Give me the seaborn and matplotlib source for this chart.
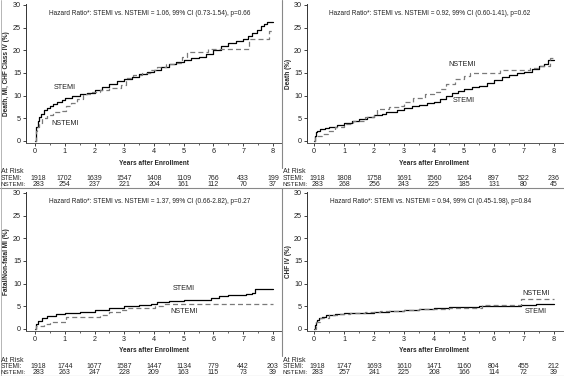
import seaborn as sns
import matplotlib.pyplot as plt
import pandas as pd
from matplotlib.lines import Line2D
from matplotlib.transforms import blended_transform_factory
from matplotlib.ticker import MultipleLocator

# panel 1: Death, MI, CHF Class IV
p1_stemi_t = [0, 0.02, 0.05, 0.1, 0.15, 0.2, 0.3, 0.4, 0.5, 0.6, 0.75, 0.9, 1.0, 1.25, 1.5, 1.75, 2.0, 2.25, 2.5,
              2.75, 3.0, 3.25, 3.5, 3.75, 4.0, 4.25, 4.5, 4.75, 5.0, 5.25, 5.5, 5.75, 6.0, 6.25, 6.5, 6.75, 7.0,
              7.15, 7.3, 7.45, 7.6, 7.7, 7.8, 8.0]
p1_stemi_v = [0, 1.5, 3.0, 4.3, 5.3, 6.0, 6.8, 7.3, 7.7, 8.1, 8.6, 9.1, 9.4, 9.9, 10.3, 10.6, 11.2, 11.8, 12.6,
              13.2, 13.7, 14.2, 14.8, 15.1, 15.6, 16.3, 17.0, 17.5, 17.9, 18.2, 18.6, 19.2, 20.1, 20.9, 21.6, 22.0,
              22.5, 23.1, 23.8, 24.5, 25.3, 25.8, 26.3, 26.3]
p1_nstemi_t = [0, 0.03, 0.08, 0.15, 0.25, 0.4, 0.6, 0.9, 1.05, 1.2, 1.4, 1.6, 1.9, 2.2, 2.5, 2.9, 3.05, 3.3, 3.6,
               3.9, 4.1, 4.4, 4.7, 4.95, 5.1, 5.5, 5.8, 6.9, 7.2, 7.85, 8.0]
p1_nstemi_v = [0, 2.2, 3.0, 4.0, 5.0, 5.8, 6.3, 6.6, 7.6, 8.4, 9.3, 10.3, 10.8, 11.3, 11.6, 12.4, 13.8, 14.5,
               15.0, 15.6, 16.4, 16.9, 17.3, 18.6, 19.6, 19.7, 20.2, 20.2, 22.5, 24.3, 24.3]

# panel 2: Death
p2_stemi_t = [0, 0.02, 0.05, 0.1, 0.2, 0.35, 0.5, 0.75, 1.0, 1.25, 1.5, 1.75, 2.0, 2.25, 2.4, 2.75, 3.0, 3.25,
              3.5, 3.75, 4.0, 4.2, 4.4, 4.6, 4.8, 5.0, 5.25, 5.5, 5.75, 6.0, 6.25, 6.5, 6.75, 7.0, 7.25, 7.5,
              7.65, 7.8, 8.0]
p2_stemi_v = [0, 1.2, 1.9, 2.3, 2.6, 2.8, 3.1, 3.5, 4.0, 4.5, 4.9, 5.3, 5.7, 5.9, 6.3, 6.8, 7.2, 7.6, 8.0,
              8.3, 8.7, 9.3, 10.0, 10.5, 11.0, 11.5, 11.8, 12.1, 12.7, 13.4, 14.0, 14.5, 15.0, 15.3, 15.9, 16.6,
              17.0, 17.8, 17.8]
p2_nstemi_t = [0, 0.03, 0.1, 0.25, 0.45, 0.7, 1.0, 1.3, 1.7, 2.0, 2.1, 2.5, 2.9, 3.0, 3.3, 3.7, 4.0, 4.2, 4.4,
               4.7, 5.0, 5.2, 6.0, 6.2, 6.9, 7.2, 7.5, 7.85, 8.0]
p2_nstemi_v = [0, 0.8, 1.2, 1.6, 2.2, 3.0, 3.7, 4.4, 5.2, 5.8, 7.0, 7.5, 7.8, 8.6, 9.4, 10.4, 10.9, 11.4,
               12.6, 13.6, 14.4, 15.0, 15.0, 15.6, 15.6, 16.0, 16.6, 18.3, 18.3]

# panel 3: Fatal/Non-fatal MI
p3_stemi_t = [0, 0.02, 0.1, 0.25, 0.4, 0.7, 1.0, 1.5, 2.0, 2.5, 3.0, 3.5, 3.9, 4.1, 4.5, 5.0, 5.6, 5.9, 6.2,
              6.5, 7.1, 7.3, 7.4, 8.0]
p3_stemi_v = [0, 1.1, 1.8, 2.5, 2.8, 3.2, 3.5, 3.7, 4.2, 4.6, 5.0, 5.3, 5.5, 6.0, 6.2, 6.3, 6.4, 6.9, 7.3,
              7.5, 7.7, 8.0, 8.8, 8.8]
p3_nstemi_t = [0, 0.02, 0.3, 0.5, 1.05, 2.1, 2.2, 2.5, 2.9, 3.1, 4.0, 4.05, 4.3, 8.0]
p3_nstemi_v = [0, 0.7, 1.2, 1.5, 2.6, 2.6, 3.0, 3.8, 4.2, 4.6, 4.6, 5.0, 5.6, 5.6]

# panel 4: CHF IV
p4_stemi_t = [0, 0.02, 0.05, 0.1, 0.18, 0.25, 0.4, 0.7, 1.0, 1.5, 2.0, 2.5, 3.0, 3.5, 4.0, 4.5, 5.0, 5.5, 6.0,
              6.9, 7.4, 8.0]
p4_stemi_v = [0, 0.8, 1.5, 2.0, 2.4, 2.7, 3.0, 3.3, 3.5, 3.6, 3.8, 4.0, 4.2, 4.4, 4.6, 4.8, 4.9, 5.0, 5.1,
              5.2, 5.5, 5.5]
p4_nstemi_t = [0, 0.05, 0.2, 0.5, 0.8, 1.2, 1.7, 2.2, 3.0, 3.5, 4.0, 4.5, 5.6, 6.9, 8.0]
p4_nstemi_v = [0, 1.5, 2.5, 3.0, 3.3, 3.5, 3.8, 4.0, 4.2, 4.4, 4.5, 4.6, 5.2, 6.6, 6.6]

ylabels = ["Death, MI, CHF Class IV (%)", "Death (%)", "Fatal/Non-fatal MI (%)", "CHF IV (%)"]
hazard = ["1.06, 99% CI (0.73-1.54), p=0.66", "0.92, 99% CI (0.60-1.41), p=0.62",
          "1.37, 99% CI (0.66-2.82), p=0.27", "0.94, 99% CI (0.45-1.98), p=0.84"]

risk_years = [0, 1, 2, 3, 4, 5, 6, 7, 8]
risk_stemi = [
    [1918, 1702, 1639, 1547, 1408, 1109, 766, 433, 199],
    [1918, 1808, 1758, 1691, 1560, 1264, 897, 522, 236],
    [1918, 1744, 1677, 1587, 1447, 1134, 779, 442, 203],
    [1918, 1747, 1693, 1610, 1471, 1160, 804, 455, 212],
]
risk_nstemi = [
    [283, 254, 237, 221, 204, 161, 112, 70, 37],
    [283, 268, 256, 243, 225, 185, 131, 80, 45],
    [283, 263, 247, 228, 209, 163, 115, 73, 39],
    [283, 257, 241, 225, 208, 166, 114, 72, 39],
]

# curve label positions (x, y) for STEMI / NSTEMI
stemi_lbl = [(1.0, 11.8), (5.0, 8.9), (5.0, 8.9), (7.4, 3.9)]
nstemi_lbl = [(1.0, 3.8), (4.95, 16.8), (5.0, 3.9), (7.4, 7.9)]

curves = [
    (p1_stemi_t, p1_stemi_v, p1_nstemi_t, p1_nstemi_v),
    (p2_stemi_t, p2_stemi_v, p2_nstemi_t, p2_nstemi_v),
    (p3_stemi_t, p3_stemi_v, p3_nstemi_t, p3_nstemi_v),
    (p4_stemi_t, p4_stemi_v, p4_nstemi_t, p4_nstemi_v),
]

W, H = 564, 376
FS = 5.0


def main():
    sns.set_theme(style="white")
    plt.rcParams['font.family'] = ['Liberation Sans', 'DejaVu Sans']

    fig = plt.figure(figsize=(W / 100, H / 100), dpi=100)

    # pixel layout: (panel x offset, axis left px, x=0 px, px per year), row y offset
    cols = [(0, 26, 35, 29.75), (282, 307, 314, 30.0)]
    rows = [0, 188]

    for idx in range(4):
        cx0, ax_left, x0px, ppy = cols[idx % 2]
        ry = rows[idx // 2]
        ax_right = cx0 + 282
        top, bottom = ry + 4, ry + 143
        ax = fig.add_axes([ax_left / W, 1 - bottom / H, (ax_right - ax_left) / W, (bottom - top) / H])

        st, sv, nt, nv = curves[idx]
        df_s = pd.DataFrame({"t": st, "v": sv})
        df_n = pd.DataFrame({"t": nt, "v": nv})
        sns.lineplot(data=df_s, x="t", y="v", ax=ax, color="black", lw=0.9,
                     drawstyle="steps-post", estimator=None)
        sns.lineplot(data=df_n, x="t", y="v", ax=ax, color="#7a7a7a", lw=0.9,
                     drawstyle="steps-post", estimator=None, linestyle=(0, (4, 2.5)))

        ax.set_xlim((ax_left - x0px) / ppy, (ax_right - x0px) / ppy)
        ax.set_ylim(-0.45, 30.2)
        ax.set_xticks(risk_years)
        ax.xaxis.set_minor_locator(MultipleLocator(0.5))
        ax.set_yticks(range(0, 31, 5))
        ax.tick_params(axis="both", which="major", labelsize=FS + 0.2, length=2, width=0.6, pad=1.5,
                       direction="out", bottom=True, left=True, colors="#222222")
        ax.tick_params(axis="x", which="minor", length=1.5, width=0.5, bottom=True, direction="out")
        ax.set_xlabel("")
        ax.set_ylabel(ylabels[idx], fontsize=FS - 0.3, fontweight="bold", labelpad=2)
        ax.yaxis.set_label_coords(-(ax_left - cx0 - 10) / (ax_right - ax_left), 0.5)
        ax.spines["top"].set_visible(False)
        ax.spines["right"].set_visible(False)
        ax.spines["left"].set_color("#333333")
        ax.spines["bottom"].set_color("#555555")
        for sp in ["left", "bottom"]:
            ax.spines[sp].set_linewidth(0.7)

        ax.text(3.87, 28.1, "Hazard Ratio*: STEMI vs. NSTEMI = " + hazard[idx],
                fontsize=FS - 0.3, ha="center", va="center", color="#222222")
        ax.text(*stemi_lbl[idx], "STEMI", fontsize=FS + 0.2, ha="center", va="center", color="#222222")
        ax.text(*nstemi_lbl[idx], "NSTEMI", fontsize=FS + 0.2, ha="center", va="center", color="#222222")

        # x label and at-risk table
        tr = blended_transform_factory(ax.transData, fig.transFigure)
        fig.text((x0px + 4 * ppy) / W, 1 - (ry + 163) / H, "Years after Enrollment",
                 fontsize=FS - 0.3, fontweight="bold", ha="center", va="center")
        fig.text((cx0 + 1) / W, 1 - (ry + 172) / H, "At Risk", fontsize=FS, ha="left", va="center")
        fig.text((cx0 + 1) / W, 1 - (ry + 179) / H, "STEMI:", fontsize=FS - 0.3, ha="left", va="center")
        fig.text((cx0 + 0.5) / W, 1 - (ry + 185) / H, "NSTEMI:", fontsize=FS - 0.5, ha="left", va="center")
        for j, yr in enumerate(risk_years):
            xs = yr + (0.12 if j == 0 else 0)
            ax.text(xs, 1 - (ry + 179) / H, str(risk_stemi[idx][j]), transform=tr,
                    fontsize=FS, ha="center", va="center")
            ax.text(xs, 1 - (ry + 185) / H, str(risk_nstemi[idx][j]), transform=tr,
                    fontsize=FS, ha="center", va="center")

    # panel frame lines
    for ry in rows:
        fig.add_artist(Line2D([282 / W, 282 / W], [1 - ry / H, 1 - (ry + 168) / H],
                              color="#888888", lw=0.8))
        fig.add_artist(Line2D([0, 1], [1 - (ry + 188) / H, 1 - (ry + 188) / H],
                              color="#888888", lw=0.8))
    fig.add_artist(Line2D([0.5 / W, 0.5 / W], [0, 1], color="#aaaaaa", lw=0.6))

    fig.savefig("out.png", dpi=100)


if __name__ == '__main__':
    main()
